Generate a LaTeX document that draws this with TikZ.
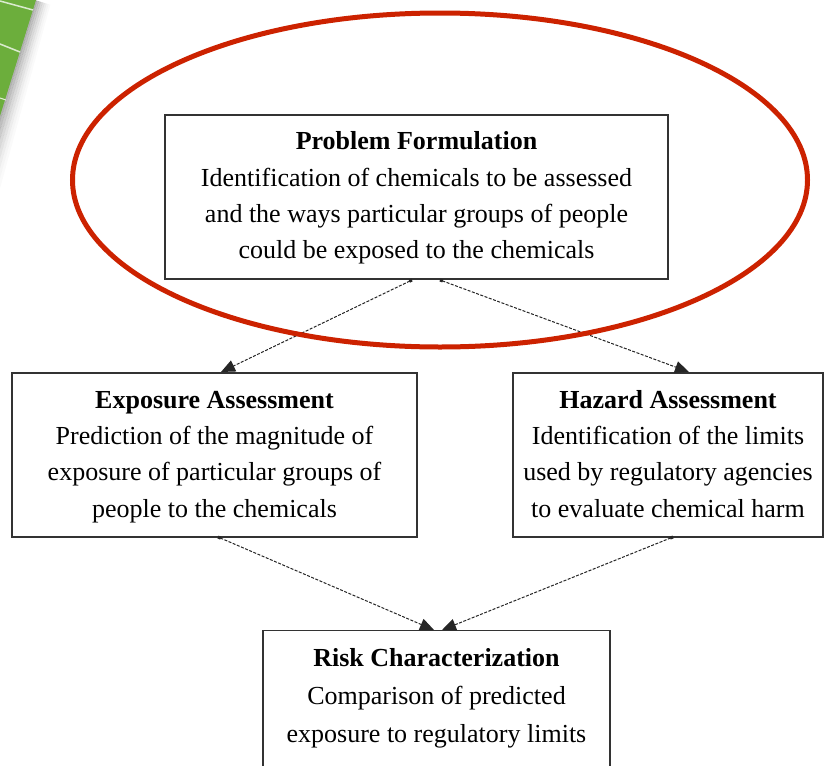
\documentclass[tikz,border=0pt]{standalone}
\usepackage{fontspec}
\setmainfont{Liberation Serif}
\usetikzlibrary{arrows.meta,shapes.geometric,calc}
\definecolor{ringred}{HTML}{CC2200}
\definecolor{cornergreen}{HTML}{6CAE3C}
\tikzset{
  stepbox/.style={draw=black!80, line width=1.2pt, fill=white, inner sep=0pt},
  boxtext/.style={align=center, font=\fontsize{26}{36.3}\selectfont, inner sep=0pt},
  flow/.style={draw=black!85, line width=1pt, dash pattern=on 3pt off 1.5pt,
    {Square[length=3pt,width=3pt]}-{Triangle[length=14pt,width=12pt]}},
}
\begin{document}
\begin{tikzpicture}[x=1pt,y=-1pt]
\clip (0,0) rectangle (833,766);
\fill[white] (0,0) rectangle (833,766);
% green corner with soft shadow
\foreach \o/\op in {0/0.30,2/0.25,4/0.20,6/0.15,8/0.11,10/0.07,12/0.04,14/0.02}{
  \fill[black, opacity=\op] ($(35,0)+(\o*0.957,\o*0.296)$) -- ($(35,0)+(\o*0.957+2,\o*0.296+0.6)$) -- ($(-30,210)+(\o*1.4+3,\o*0.4)$) -- ($(-30,210)+(\o*1.4,\o*0.4)$) -- cycle;
}
\fill[cornergreen] (-5,0) -- (36,0) -- (0,116) -- (-5,116) -- cycle;
\draw[white!75!cornergreen, line width=1.5pt] (0,1) -- (33,10);
\draw[white!75!cornergreen, line width=1.5pt] (0,44) -- (20,52);
\draw[white!80!cornergreen, line width=1pt] (0,98) -- (6,100);
% boxes
\node[stepbox, minimum width=503pt, minimum height=164pt] (prob) at (416.5,197) {};
\node[boxtext] (probtext) at (416.5,197) {\strut\textbf{Problem Formulation}\\Identification of chemicals to be assessed\\and the ways particular groups of people\\could be exposed to the chemicals\strut};
\node[stepbox, minimum width=405pt, minimum height=164pt] (expo) at (214.5,455) {};
\node[boxtext] (expotext) at (214.5,455.3) {\strut\textbf{Exposure Assessment}\\Prediction of the magnitude of\\exposure of particular groups of\\people to the chemicals\strut};
\node[stepbox, minimum width=310pt, minimum height=164pt] (haz) at (668,455) {};
\node[boxtext] (haztext) at (668,455.3) {\strut\textbf{Hazard Assessment}\\Identification of the limits\\used by regulatory agencies\\to evaluate chemical harm\strut};
\node[stepbox, minimum width=347pt, minimum height=200pt, anchor=north] (risk) at (436.5,630) {};
\node[boxtext, font=\fontsize{26}{38}\selectfont] (risktext) at (436.5,696.4) {\strut\textbf{Risk Characterization}\\Comparison of predicted\\exposure to regulatory limits\strut};
% connectors
\coordinate (p1) at (412,280);
\coordinate (p2) at (440,280);
\coordinate (e1) at (221,372);
\coordinate (h1) at (689,372);
\coordinate (e2) at (218,537);
\coordinate (h2) at (673,537);
\coordinate (r1) at (434,630);
\coordinate (r2) at (442,630);
\draw[flow] (p1) -- (e1);
\draw[flow] (p2) -- (h1);
\draw[flow] (e2) -- (r1);
\draw[flow] (h2) -- (r2);
% red ellipse
\node[draw=ringred, line width=5pt, ellipse, minimum width=735pt, minimum height=334pt, inner sep=0pt] (ring) at (440,180) {};
\end{tikzpicture}
\end{document}
